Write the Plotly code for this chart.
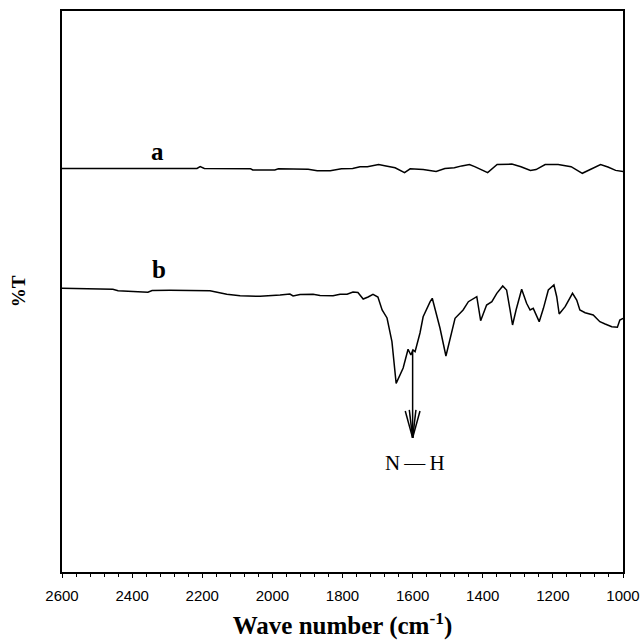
import plotly.graph_objects as go

# Curve b (lower spectrum)
wn_b = [2600, 2540, 2455, 2440, 2355, 2343, 2292, 2178, 2130, 2092, 2035, 1978, 1950, 1941,
        1921, 1884, 1864, 1827, 1807, 1787, 1770, 1756, 1741, 1727, 1713, 1699, 1687, 1673,
        1659, 1647, 1627, 1613, 1605, 1599, 1593, 1579, 1570, 1550, 1544, 1522, 1505, 1479,
        1456, 1441, 1417, 1406, 1389, 1374, 1360, 1343, 1332, 1322, 1315, 1305, 1289, 1275,
        1265, 1256, 1239, 1227, 1213, 1197, 1189, 1182, 1165, 1144, 1132, 1123, 1108, 1085,
        1066, 1051, 1032, 1016, 1009, 1000]
t_b = [50.57, 50.45, 50.39, 50.14, 49.86, 50.18, 50.21, 50.14, 49.5, 49.25, 49.14, 49.38, 49.55, 49.2,
       49.47, 49.5, 49.29, 49.25, 49.5, 49.5, 49.91, 49.82, 48.66, 49.02, 49.5, 49.02, 46.7, 45.28,
       41.05, 33.63, 36.36, 39.7, 38.68, 39.57, 39.27, 42.6, 45.5, 48.18, 48.79, 43.49, 38.5, 45.22,
       46.7, 48.18, 49.07, 44.8, 47.59, 48.18, 49.67, 50.98, 50.27, 46.7, 44.03, 46.7, 50.39, 47.9,
       46.7, 47.0, 44.62, 47.0, 50.27, 51.16, 49.07, 45.99, 47.29, 49.68, 48.48, 46.7, 46.22, 45.81,
       44.62, 44.21, 43.73, 43.63, 44.92, 45.22]

# Curve a (upper spectrum)
wn_a = [2600, 2215, 2206, 2194, 2062, 2056, 1993, 1983, 1898, 1872, 1835, 1803, 1771, 1750, 1729,
        1697, 1676, 1650, 1623, 1607, 1570, 1533, 1508, 1481, 1460, 1438, 1423, 1386, 1359, 1317,
        1291, 1264, 1248, 1222, 1185, 1148, 1116, 1085, 1064, 1043, 1021, 1000]
t_a = [71.93, 71.93, 72.25, 71.93, 71.86, 71.66, 71.66, 71.86, 71.80, 71.54, 71.54, 71.86, 71.93, 72.25, 72.25,
       72.64, 72.39, 72.05, 71.20, 71.86, 71.73, 71.39, 71.93, 72.05, 72.39, 72.64, 72.25, 71.20, 72.64, 72.71,
       72.25, 71.59, 71.73, 72.64, 72.64, 72.25, 71.07, 72.05, 72.64, 72.18, 71.59, 71.39]

x_ticks = [2600, 2400, 2200, 2000, 1800, 1600, 1400, 1200, 1000]

# annotation positions
label_a = (2329, 75.0)
label_b = (2323, 54.0)
nh_x = 1600
nh_top, nh_tip, nh_barb_top = 39.6, 23.9, 28.7
nh_barb_dx = 21
nh_text_y = 19.4

fig = go.Figure()
fig.add_trace(go.Scatter(x=wn_a, y=t_a, mode="lines", line=dict(color="black", width=1.5),
                         showlegend=False, hoverinfo="skip"))
fig.add_trace(go.Scatter(x=wn_b, y=t_b, mode="lines", line=dict(color="black", width=1.5),
                         showlegend=False, hoverinfo="skip"))

serif = "Liberation Serif, Times New Roman, serif"
fig.add_annotation(x=label_a[0], y=label_a[1], text="<b>a</b>", showarrow=False,
                   font=dict(family=serif, size=25, color="black"))
fig.add_annotation(x=label_b[0], y=label_b[1], text="<b>b</b>", showarrow=False,
                   font=dict(family=serif, size=25, color="black"))
fig.add_annotation(x=nh_x - 7, y=nh_text_y, text="N\u2009\u2014\u2009H", showarrow=False,
                   font=dict(family=serif, size=21, color="black"))

# arrow
for (x0, y0, x1, y1) in [(nh_x, nh_top, nh_x, nh_tip),
                         (nh_x + nh_barb_dx, nh_barb_top, nh_x, nh_tip),
                         (nh_x - nh_barb_dx, nh_barb_top, nh_x, nh_tip),
                         (nh_x + nh_barb_dx * 0.45, nh_barb_top + 0.2, nh_x, nh_tip),
                         (nh_x - nh_barb_dx * 0.45, nh_barb_top + 0.2, nh_x, nh_tip)]:
    fig.add_shape(type="line", x0=x0, y0=y0, x1=x1, y1=y1, xref="x", yref="y",
                  line=dict(color="black", width=1.5))

fig.update_layout(
    width=641, height=640,
    margin=dict(l=62, r=18, t=11, b=68),
    plot_bgcolor="white", paper_bgcolor="white",
    xaxis=dict(range=[2600, 1000], tickvals=x_ticks, ticktext=[str(v) for v in x_ticks],
               ticks="outside", ticklen=4, tickwidth=1, tickcolor="black",
               minor=dict(dtick=40, tick0=1000, ticks="outside", ticklen=3, tickcolor="black", tickwidth=1),
               showline=True, linecolor="black", linewidth=1.5, mirror=True,
               showgrid=False, zeroline=False, automargin=False,
               ticklabelstandoff=5,
               tickfont=dict(family="Liberation Sans, Arial, sans-serif", size=15, color="black"),
               title=dict(text="<b>Wave number (cm<sup>-1</sup>)</b>",
                          font=dict(family=serif, size=25, color="black"), standoff=14)),
    yaxis=dict(range=[0, 100], showticklabels=False, ticks="",
               showline=True, linecolor="black", linewidth=1.5, mirror=True,
               showgrid=False, zeroline=False, automargin=False,
               title=dict(text="<b>%T</b>", font=dict(family=serif, size=19, color="black"),
                          standoff=30)),
)

fig.write_html("out.html")
